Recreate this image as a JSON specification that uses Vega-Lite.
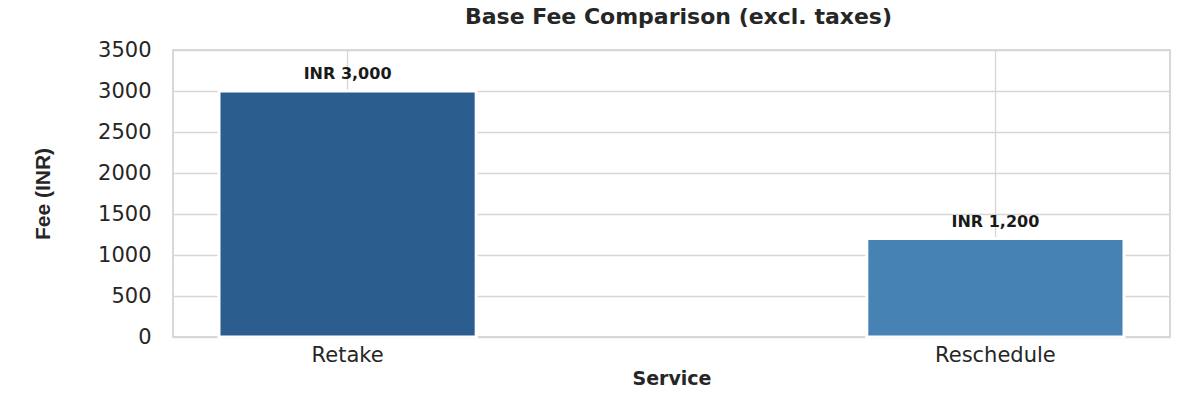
{
  "$schema": "https://vega.github.io/schema/vega-lite/v6.json",
  "autosize": {"type": "none"},
  "padding": {"left": 173, "top": 50, "right": 30, "bottom": 63},
  "width": 997,
  "height": 287,
  "background": "white",
  "title": {
    "text": "Base Fee Comparison (excl. taxes)",
    "font": "DejaVu Sans",
    "fontSize": 22,
    "fontWeight": "bold",
    "color": "#262626",
    "offset": 10,
    "anchor": "middle",
    "dx": 7
  },
  "config": {
    "view": {"stroke": "#cccccc", "strokeWidth": 1.5},
    "axis": {
      "labelFont": "DejaVu Sans",
      "labelColor": "#262626",
      "titleColor": "#262626",
      "gridColor": "#d6d6d6",
      "gridWidth": 1.3,
      "domain": false,
      "ticks": false
    }
  },
  "data": {
    "values": [
      {"service": "Retake", "fee": 3000, "label": "INR 3,000"},
      {"service": "Reschedule", "fee": 1200, "label": "INR 1,200"}
    ]
  },
  "encoding": {
    "x": {
      "field": "service",
      "type": "nominal",
      "sort": null,
      "scale": {"paddingInner": 0.603, "paddingOuter": 0.071},
      "axis": {
        "title": "Service",
        "titleFont": "DejaVu Sans",
        "titleFontSize": 19,
        "titleFontWeight": "bold",
        "titlePadding": 4,
        "labelFontSize": 21,
        "labelAngle": 0,
        "labelPadding": 7,
        "grid": true,
        "bandPosition": 0.5
      }
    },
    "y": {
      "field": "fee",
      "type": "quantitative",
      "scale": {"domain": [0, 3500]},
      "axis": {
        "title": "Fee (INR)",
        "titleFont": "Liberation Sans",
        "titleFontSize": 21,
        "titleFontWeight": "bold",
        "titlePadding": 44,
        "labelFontSize": 21,
        "labelPadding": 22,
        "format": "d",
        "values": [0, 500, 1000, 1500, 2000, 2500, 3000, 3500],
        "grid": true
      }
    }
  },
  "layer": [
    {
      "mark": {"type": "bar", "stroke": "white", "strokeWidth": 3},
      "encoding": {
        "color": {
          "field": "service",
          "type": "nominal",
          "scale": {"domain": ["Retake", "Reschedule"], "range": ["#2c5d8f", "#4682b4"]},
          "legend": null
        }
      }
    },
    {
      "mark": {
        "type": "text",
        "font": "DejaVu Sans",
        "fontSize": 16,
        "fontWeight": "bold",
        "color": "#1a1a1a",
        "baseline": "bottom",
        "dy": -9
      },
      "encoding": {
        "text": {"field": "label", "type": "nominal"}
      }
    }
  ]
}
